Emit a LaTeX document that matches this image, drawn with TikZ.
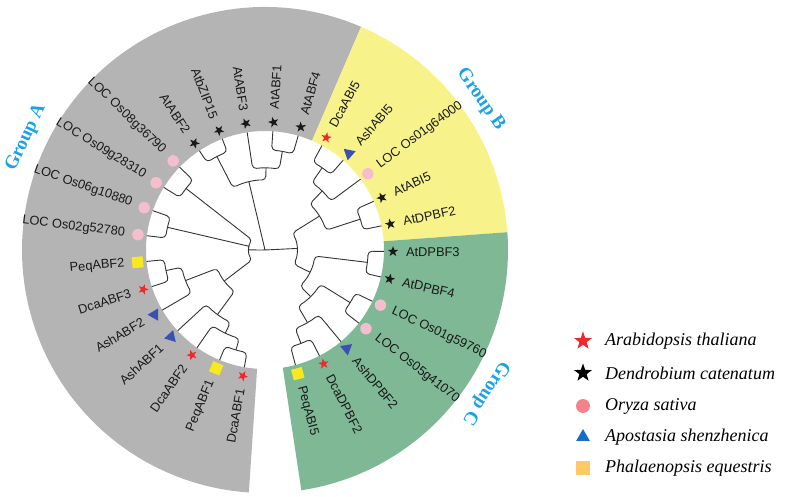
\documentclass[tikz,border=0pt]{standalone}
\usepackage{fontspec}
\setmainfont{Liberation Serif}
\setsansfont{Liberation Sans}
\usetikzlibrary{shapes.geometric}

\definecolor{sectA}{RGB}{180,180,180}
\definecolor{sectB}{RGB}{247,243,138}
\definecolor{sectC}{RGB}{126,184,149}
\definecolor{grplabel}{RGB}{27,161,230}
\definecolor{mred}{RGB}{240,40,45}
\definecolor{mpink}{RGB}{245,190,204}
\definecolor{mblue}{RGB}{60,80,175}
\definecolor{myellow}{RGB}{248,232,30}
\definecolor{lgpink}{RGB}{244,130,140}
\definecolor{lgblue}{RGB}{20,110,200}
\definecolor{lgorange}{RGB}{255,201,100}

\tikzset{
  branch/.style={draw=black!80, line width=0.9pt, rounded corners=4pt},
  leaflabel/.style={font=\sffamily\fontsize{12.8}{14}\selectfont, inner sep=0pt, text=black!90},
  grouplabel/.style={font=\bfseries\fontsize{19}{22}\selectfont, text=grplabel},
  legendtext/.style={font=\itshape\fontsize{18}{20}\selectfont, anchor=west, inner sep=0pt},
  mkred/.style={star, star points=5, star point ratio=2.5, fill=mred, inner sep=0pt, minimum size=11pt},
  mkblack/.style={star, star points=5, star point ratio=2.5, fill=black!90, inner sep=0pt, minimum size=11pt},
  mkdot/.style={circle, fill=mpink, inner sep=0pt, minimum size=11.5pt},
  mktri/.style={regular polygon, regular polygon sides=3, fill=mblue, inner sep=0pt, minimum size=14pt},
  mksq/.style={rectangle, fill=myellow, inner sep=0pt, minimum size=11pt},
}

% one clade: child 1 (angle, radius), child 2 (angle, radius), node radius
\newcommand{\clade}[5]{\draw[branch] (#1:#2) -- (#1:#5) arc[start angle=#1, end angle=#3, radius=#5] -- (#3:#4);}

\begin{document}
\begin{tikzpicture}[x=1pt, y=1pt]
  \useasboundingbox (-265,-247) rectangle (522,250);

  % Group sectors
  \fill[sectA] (66.7:119) -- (66.7:243) arc[start angle=66.7, end angle=266.2, radius=243]
    -- (266.2:119) arc[start angle=266.2, end angle=66.7, radius=119] -- cycle;
  \fill[sectB] (4.2:119) -- (4.2:243) arc[start angle=4.2, end angle=66.7, radius=243]
    -- (66.7:119) arc[start angle=66.7, end angle=4.2, radius=119] -- cycle;
  \fill[sectC] (-81.4:119) -- (-81.4:243) arc[start angle=-81.4, end angle=4.2, radius=243]
    -- (4.2:119) arc[start angle=4.2, end angle=-81.4, radius=119] -- cycle;

  % Tree, group A
  \clade{260}{119}{247.586}{119}{104}
  \clade{253.793}{104}{235.172}{119}{92}
  \clade{244.483}{92}{222.759}{119}{80}
  \clade{197.931}{119}{185.517}{119}{101}
  \clade{191.724}{101}{210.345}{119}{85}
  \clade{233.621}{80}{201.034}{85}{51}
  \clade{173.103}{119}{160.690}{119}{100}
  \clade{148.276}{119}{135.862}{119}{100}
  \clade{217.328}{51}{142.069}{100}{16}
  \draw[branch] (166.897:16) -- (166.897:100);
  \clade{123.448}{119}{111.034}{119}{105}
  \clade{86.207}{119}{73.793}{119}{100}
  \clade{98.621}{119}{80}{100}{82}
  \clade{117.241}{105}{89.31}{82}{70}
  % Tree, group B
  \clade{61.379}{119}{48.966}{119}{100}
  \clade{55.172}{100}{36.552}{119}{82}
  \clade{24.138}{119}{11.724}{119}{100}
  \clade{45.862}{82}{17.931}{100}{64}
  % Tree, group C
  \clade{-0.690}{119}{-13.103}{119}{103}
  \clade{-25.517}{119}{-37.931}{119}{100}
  \clade{-62.759}{119}{-75.172}{119}{100}
  \clade{-50.345}{119}{-68.966}{100}{84}
  \clade{-31.724}{100}{-59.655}{84}{65}
  \clade{-6.897}{103}{-45.69}{65}{50}
  \clade{31.897}{64}{-26.293}{50}{32}
  % Root
  \draw[branch] (179.699:16) -- (0,0) -- (2.802:32);
  \draw[branch] (0,0) -- (103.276:70);

  % Leaves: marker and label
  \foreach \i/\lbl/\mk in {0/DcaABF1/mkred, 1/PeqABF1/mksq, 2/DcaABF2/mkred,
      3/AshABF1/mktri, 4/AshABF2/mktri, 5/DcaABF3/mkred, 6/PeqABF2/mksq,
      7/LOC Os02g52780/mkdot, 8/LOC Os06g10880/mkdot, 9/LOC Os09g28310/mkdot,
      10/LOC Os08g36790/mkdot, 11/AtABF2/mkblack, 12/AtbZIP15/mkblack,
      13/AtABF3/mkblack, 14/AtABF1/mkblack, 15/AtABF4/mkblack,
      16/DcaABI5/mkred, 17/AshABI5/mktri, 18/LOC Os01g64000/mkdot,
      19/AtABI5/mkblack, 20/AtDPBF2/mkblack, 21/AtDPBF3/mkblack,
      22/AtDPBF4/mkblack, 23/LOC Os01g59760/mkdot, 24/LOC Os05g41070/mkdot,
      25/AshDPBF2/mktri, 26/DcaDPBF2/mkred, 27/PeqABI5/mksq}{
    \pgfmathsetmacro{\a}{260-\i*360/29}
    \node[\mk, rotate=\a] (m\i) at (\a:128) {};
    \ifdim\a pt>90pt
      \node[leaflabel, anchor=east, rotate=\a-180] (t\i) at (\a:141) {\lbl};
    \else
      \node[leaflabel, anchor=west, rotate=\a] (t\i) at (\a:141) {\lbl};
    \fi
  }

  % Group labels
  \node[grouplabel, rotate=64.8] (grpA) at (154.8:264) {Group A};
  \node[grouplabel, rotate=-55.1] (grpB) at (34.9:263) {Group B};
  \node[grouplabel, rotate=-123] (grpC) at (-33:263) {Group C};

  % Legend
  \node[mkred, minimum size=19pt] (lg1) at (318,-91) {};
  \node[mkblack, fill=black, minimum size=19pt] (lg2) at (318,-123) {};
  \node[mkdot, fill=lgpink, minimum size=14pt] (lg3) at (318,-156) {};
  \node[mktri, fill=lgblue, minimum size=16pt] (lg4) at (318,-187) {};
  \node[mksq, fill=lgorange, minimum size=14pt] (lg5) at (318,-218) {};
  \node[legendtext] (lt1) at (340,-91) {Arabidopsis thaliana};
  \node[legendtext] (lt2) at (340,-123) {Dendrobium catenatum};
  \node[legendtext] (lt3) at (340,-156) {Oryza sativa};
  \node[legendtext] (lt4) at (340,-187) {Apostasia shenzhenica};
  \node[legendtext] (lt5) at (340,-218) {Phalaenopsis equestris};
\end{tikzpicture}
\end{document}
